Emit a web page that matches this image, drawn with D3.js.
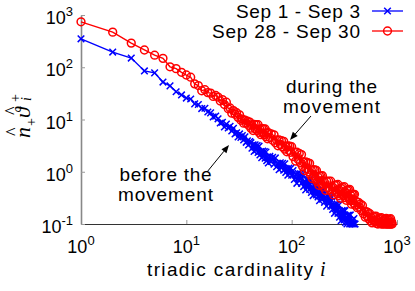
<!DOCTYPE html>
<html><head><meta charset="utf-8">
<script src="https://cdn.jsdelivr.net/npm/d3@7"></script>
<style>body{margin:0;background:#fff}svg{display:block}</style>
</head><body>
<svg id="c" width="415" height="291"></svg>
<script>
const seriesNames = ["Sep 1 - Sep 3", "Sep 28 - Sep 30"];
const blueI = [1,2,3,4,5,6,7,8,9,10,11,12,13,14,15,16,17,18,19,20,21,22,23,24,25,26,27,28,29,30,31,32,33,34,35,36,37,38,39,40,41,42,43,44,45,46,47,48,49,50,51,52,53,54,55,56,57,58,59,60,
  62,64,66,68,70,72,74,76,78,80,82,84,86,88,90,92,94,96,98,100,
  103,106,109,112,115,118,121,124,127,130,133,136,139,142,145,148,151,154,157,160,163,166,169,172,175,178,181,184,187,190,193,196,199,
  205,210,215,220,225,230,235,240,245,250,255,260,265,270,275,280,285,290,295,300,305,310,315,320,325,330,335,340,345,350,355,360,365,370,375,380,385,390,395,400];
const blueV = [350,195,150,85,78,52,44,34,29.5,25.7,24.7,19.9,19.4,16.2,16.4,13.9,13.4,11.2,11.6,
  10.3,8.57,8.87,7.21,8.15,6.90,7.40,6.03,6.78,5.30,5.57,4.62,5.30,4.55,4.95,4.07,4.65,3.66,3.90,3.27,3.79,
  3.6,2.82,3.27,2.45,3.29,2.62,3.18,2.35,3.09,2.10,2.44,1.85,2.49,2.00,2.44,1.81,2.39,1.63,1.92,1.47,
  1.97,1.57,1.89,1.39,1.84,1.25,1.45,1.09,1.48,1.19,1.45,1.07,1.42,0.97,1.14,0.86,1.17,0.94,1.16,0.86,
  1.05,0.71,0.89,0.60,0.93,0.68,0.91,0.60,0.90,0.52,0.66,0.45,0.70,0.52,0.70,0.46,0.69,0.40,0.52,0.35,0.55,0.41,0.55,0.36,0.56,0.33,0.42,0.28,0.45,0.33,0.45,0.30,0.45,
  0.26,0.33,0.22,0.34,0.25,0.33,0.22,0.33,0.19,0.23,0.16,0.24,0.18,0.24,0.16,0.23,0.135,0.17,0.116,0.18,0.135,0.18,0.12,0.18,0.107,0.136,0.1,0.146,0.108,0.147,0.1,0.149,0.1,0.111,0.1,0.12,0.1,0.127,0.1,0.1];
const redI = [1,2,3,4,5,6,7,8,9,10,11,12,13,14,15,16,17,18,19,20,21,22,23,24,25,26,27,28,29,30,31,32,33,34,35,36,37,38,39,40,41,42,43,44,45,46,47,48,49,50,51,52,53,54,55,56,57,58,59,60,
  62,64,66,68,70,72,74,76,78,80,82,84,86,88,90,92,94,96,98,100,
  103,106,109,112,115,118,121,124,127,130,133,136,139,142,145,148,151,154,157,160,163,166,169,172,175,178,181,184,187,190,193,196,199,
  205,210,215,220,225,230,235,240,245,250,255,260,265,270,275,280,285,290,295,300,305,310,315,320,325,330,335,340,345,350,355,360,365,370,375,380,385,390,395,400,
  410,420,430,440,450,460,470,480,490,500,510,520,530,540,550,560,570,580,590,600,610,620,630,640,650,660,670,680,690,700,710,720,730,740,750,760,770,780,790,800,810,820,830,840,850,860,870,880,890,900];
const redV = [740,470,290,214,170,148,102,94,80,71,64.6,48.1,44.6,35.5,37.2,32.7,32.0,27.6,28.8,
  26.9,22.6,24.0,19.3,21.4,16.0,16.6,13.2,14.8,12.6,13.5,11.0,12.3,9.66,10.2,8.51,9.77,8.51,9.33,7.76,8.91,
  6.81,7.85,6.14,8.05,6.67,7.98,6.14,7.93,5.66,6.55,5.12,6.71,5.55,6.62,5.09,6.58,4.70,5.45,4.27,5.60,
  4.54,5.32,4.01,5.08,3.58,4.06,3.14,4.06,3.32,3.93,2.99,3.82,2.70,3.10,2.41,3.13,2.58,3.08,2.36,3.02,
  1.95,2.36,1.60,2.36,1.74,2.24,1.48,2.13,1.26,1.53,1.05,1.55,1.15,1.49,1.0,1.45,0.87,1.06,0.74,1.10,0.83,1.08,0.73,1.06,0.64,0.79,0.55,0.82,0.63,0.83,0.57,0.84,0.51,
  0.63,0.44,0.66,0.50,0.66,0.45,0.66,0.41,0.51,0.36,0.55,0.42,0.56,0.38,0.57,0.35,0.44,0.31,0.48,0.37,0.50,0.35,0.52,0.32,0.40,0.285,0.44,0.34,0.45,0.31,0.46,0.28,0.35,0.24,0.37,0.28,0.37,0.25,0.37,0.23,
  0.27,0.205,0.26,0.21,0.24,0.18,0.226,0.157,0.177,0.135,0.173,0.141,0.166,0.125,0.158,0.114,0.133,0.105,0.139,0.116,0.14,0.109,0.142,0.102,0.119,0.1,0.126,0.106,0.129,0.101,0.132,0.1,0.112,0.1,0.12,0.101,0.124,0.1,0.128,0.1,0.11,0.1,0.118,0.1,0.122,0.1,0.126,0.1,0.109,0.1];
const xTicks = [1,10,100,1000];
const yTicks = [0.1,1,10,100,1000];
const xTickLabels = [["10","0"],["10","1"],["10","2"],["10","3"]];
const yTickLabels = [["10","-1"],["10","0"],["10","1"],["10","2"],["10","3"]];

const svg = d3.select("#c");
const sans = "'Liberation Sans', Arial, Helvetica, sans-serif";
const serif = "'Liberation Serif', 'DejaVu Serif', serif";
const x = d3.scaleLog().domain([1,1000]).range([81,397]);
const y = d3.scaleLog().domain([0.1,1000]).range([224,15]);

// axes
const gx = svg.append("g").attr("transform","translate(0,224)")
  .call(d3.axisBottom(x).tickValues(xTicks).tickSize(-4).tickFormat("").tickSizeOuter(0));
gx.select(".domain").attr("stroke","#333").attr("stroke-width",1.2);
gx.selectAll(".tick line").attr("stroke","#999");
const gy = svg.append("g").attr("transform","translate(81,0)")
  .call(d3.axisLeft(y).tickValues(yTicks).tickSize(-4).tickFormat("").tickSizeOuter(0));
gy.select(".domain").attr("stroke","#888").attr("stroke-width",1.6);
gy.selectAll(".tick line").attr("stroke","#999");

// tick labels
xTicks.forEach((t,k)=>{
  const tx = svg.append("text").attr("x",x(t)).attr("y",253).attr("text-anchor","middle")
    .attr("font-family",sans).attr("font-size",18).attr("fill","#000");
  tx.append("tspan").text(xTickLabels[k][0]);
  tx.append("tspan").attr("dy",-8).attr("font-size",13).text(xTickLabels[k][1]);
});
yTicks.forEach((t,k)=>{
  const tx = svg.append("text").attr("x",73).attr("y",y(t)+9).attr("text-anchor","end")
    .attr("font-family",sans).attr("font-size",18).attr("fill","#000");
  tx.append("tspan").text(yTickLabels[k][0]);
  tx.append("tspan").attr("dy",-8).attr("font-size",13).text(yTickLabels[k][1]);
});

// x label
svg.append("text").attr("x",147).attr("y",276).attr("font-family",sans).attr("font-size",19)
  .attr("textLength",166).attr("lengthAdjust","spacing").text("triadic cardinality");
svg.append("text").attr("x",320).attr("y",276).attr("font-family",serif).attr("font-style","italic")
  .attr("font-size",20).text("i");

// y label (rotated)
const yl = svg.append("g").attr("transform","translate(30,138) rotate(-90)")
  .attr("font-family",serif).attr("fill","#000");
yl.append("text").attr("x",0).attr("y",0).attr("font-size",22).attr("font-style","italic").text("n");
yl.append("text").attr("x",2).attr("y",-11).attr("font-size",18).text("^");
yl.append("text").attr("x",12).attr("y",6).attr("font-size",14).text("+");
yl.append("text").attr("x",20).attr("y",0).attr("font-size",22).attr("font-style","italic").text("ϑ");
yl.append("text").attr("x",23).attr("y",-12).attr("font-size",18).text("^");
yl.append("text").attr("x",36).attr("y",-10).attr("font-size",14).text("+");
yl.append("text").attr("x",37).attr("y",1).attr("font-size",14).attr("font-style","italic").text("i");

// series
const series = [
  {name:seriesNames[0], I:blueI, V:blueV, color:"#0000ff", marker:"x"},
  {name:seriesNames[1], I:redI, V:redV, color:"#ff0000", marker:"o"}
];
const line = d3.line().x(d=>x(d[0])).y(d=>y(d[1]));
function drawMarker(g, px, py, s){
  if(s.marker==="x"){
    g.append("path").attr("d",`M${px-3.3},${py-3.3}L${px+3.3},${py+3.3}M${px-3.3},${py+3.3}L${px+3.3},${py-3.3}`)
      .attr("stroke",s.color).attr("stroke-width",1.5).attr("fill","none");
  } else {
    g.append("circle").attr("cx",px).attr("cy",py).attr("r",3.9)
      .attr("stroke",s.color).attr("stroke-width",1.5).attr("fill","none");
  }
}
series.forEach(s=>{
  const n = Math.min(s.I.length, s.V.length);
  const pts = s.I.slice(0,n).map((v,k)=>[v,s.V[k]]);
  const g = svg.append("g");
  g.append("path").attr("d",line(pts)).attr("fill","none").attr("stroke",s.color).attr("stroke-width",1.4);
  pts.forEach(p=>drawMarker(g,x(p[0]),y(p[1]),s));
});

// legend
series.forEach((s,k)=>{
  const ly = 11 + k*20;
  svg.append("text").attr("x",360).attr("y",ly+6.5).attr("text-anchor","end")
    .attr("font-family",sans).attr("font-size",19)
    .attr("textLength",k===0?124:148).attr("lengthAdjust","spacing").text(s.name);
  svg.append("line").attr("x1",372).attr("x2",403).attr("y1",ly).attr("y2",ly)
    .attr("stroke",s.color).attr("stroke-width",1.3);
  drawMarker(svg,387.5,ly,s);
});

// annotations
function label(lines, cx, y0, widths){
  lines.forEach((t,k)=>{
    svg.append("text").attr("x",cx - widths[k]/2).attr("y",y0+k*20)
      .attr("font-family",sans).attr("font-size",19)
      .attr("textLength",widths[k]).attr("lengthAdjust","spacing").text(t);
  });
}
label(["during the","movement"], 331.5, 93, [91,97]);
label(["before the","movement"], 165.5, 181, [92,95]);
function arrow(x1,y1,x2,y2){
  const a = Math.atan2(y2-y1,x2-x1), L=8, W=3.2;
  const bx = x2-L*Math.cos(a), by = y2-L*Math.sin(a);
  svg.append("line").attr("x1",x1).attr("y1",y1).attr("x2",bx).attr("y2",by)
    .attr("stroke","#000").attr("stroke-width",1);
  svg.append("path").attr("d",`M${x2},${y2}L${bx+W*Math.sin(a)},${by-W*Math.cos(a)}L${bx-W*Math.sin(a)},${by+W*Math.cos(a)}Z`)
    .attr("fill","#000");
}
arrow(311,116,290,140);
arrow(207,172,229,145);
</script>
</body></html>
